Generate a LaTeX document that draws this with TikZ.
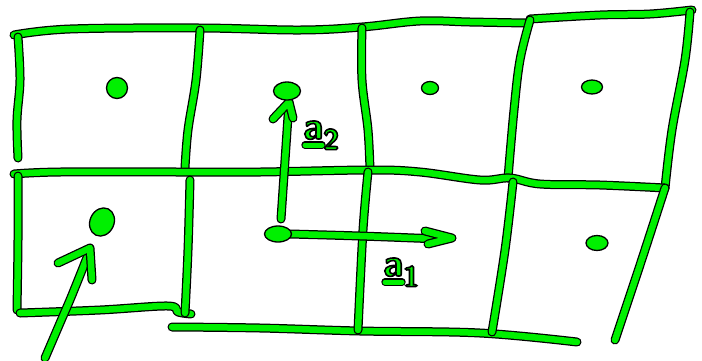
\documentclass[tikz,border=0pt]{standalone}
\usetikzlibrary{calc,shapes.geometric}
\definecolor{pen}{RGB}{0,240,0}
\newcommand{\outlinedtext}[1]{\special{pdf:literal direct 2 Tr 1.6 w 0 0 0 RG}#1\special{pdf:literal direct 0 Tr}}
\tikzset{
  pen/.style={draw=pen, line width=6.5pt, line cap=round, line join=round,
    preaction={draw=black, line width=9pt, line cap=round, line join=round}},
  thinpen/.style={draw=pen, line width=5pt, line cap=round,
    preaction={draw=black, line width=7.4pt, line cap=round}},
  blob/.style={ellipse, fill=pen, draw=black, line width=1.3pt, inner sep=0pt},
  lbl/.style={text=pen, font=\fontsize{38}{38}\selectfont\sffamily\bfseries, inner sep=0pt, anchor=base west}
}
\begin{document}
\begin{tikzpicture}[x=1pt,y=-1pt]
\useasboundingbox (0,0) rectangle (702,360);
% dot centres
\coordinate (c1) at (117,88);
\coordinate (c2) at (287,91);
\coordinate (c3) at (430,88);
\coordinate (c4) at (592,87);
\coordinate (c5) at (102,222);
\coordinate (c6) at (278,234);
\coordinate (c7) at (597,243);
% ---- grid, upper row
\draw[pen] plot[smooth,tension=0.6] coordinates {(14,35) (70,29) (200,28) (300,30) (362,27) (420,21) (470,22) (526,23)};
\draw[pen] plot[smooth,tension=0.6] coordinates {(530,19) (600,15) (650,14) (692,10)};
\draw[pen] plot[smooth,tension=0.6] coordinates {(18,37) (20,80) (17,120) (18,158)};
\draw[pen] plot[smooth,tension=0.6] coordinates {(200,30) (196,80) (188,130) (185,168)};
\draw[pen] plot[smooth,tension=0.6] coordinates {(362,28) (362,80) (368,130) (370,170)};
\draw[pen] plot[smooth,tension=0.6] coordinates {(530,20) (520,60) (514,110) (508,178)};
\draw[pen] plot[smooth,tension=0.6] coordinates {(690,12) (685,60) (672,130) (665,188)};
\draw[pen] plot[smooth,tension=0.6] coordinates {(14,174) (60,172) (185,172) (260,172) (370,170) (420,172) (480,180) (510,178) (540,184) (600,185) (665,188)};
% ---- grid, lower row
\draw[pen] plot[smooth,tension=0.6] coordinates {(18,176) (18,240) (17,310)};
\draw[pen] plot[smooth,tension=0.6] coordinates {(20,313) (100,310) (168,306) (178,312) (191,314)};
\draw[pen] plot[smooth,tension=0.6] coordinates {(190,180) (188,250) (185,313)};
\draw[pen] plot[smooth,tension=0.6] coordinates {(172,327) (260,328) (360,331) (480,333) (577,342)};
\draw[pen] plot[smooth,tension=0.6] coordinates {(368,172) (363,230) (358,330)};
\draw[pen] plot[smooth,tension=0.6] coordinates {(513,182) (505,250) (492,332)};
\draw[pen] plot[smooth,tension=0.6] coordinates {(665,188) (640,265) (615,340)};
% ---- arrows
\draw[pen] ($(c6)+(3,-15)$) -- ($(c2)+(2,11)$);
\draw[pen] ($(c2)+(-14,28)$) -- ($(c2)+(2,11)$) -- ($(c2)+(6,27)$);
\draw[pen] plot[smooth,tension=0.6] coordinates {($(c6)+(12,0)$) (360,236) (440,239)};
\draw[pen] (425,231) -- (452,238) -- (428,244);
\draw[pen] plot[smooth,tension=0.6] coordinates {(45,358) (60,323) (72,295) (90,250)};
\draw[pen] (58,263) -- (90,248) -- (92,280);
% ---- dots
\node[blob, minimum width=21pt, minimum height=21pt] (d1) at (c1) {};
\node[blob, minimum width=27pt, minimum height=18pt] (d2) at (c2) {};
\node[blob, minimum width=17pt, minimum height=13pt] (d3) at (c3) {};
\node[blob, minimum width=21pt, minimum height=14pt] (d4) at (c4) {};
\node[blob, minimum width=24pt, minimum height=29pt, rotate=-25] (d5) at (c5) {};
\node[blob, minimum width=27pt, minimum height=16pt] (d6) at (c6) {};
\node[blob, minimum width=22pt, minimum height=15pt] (d7) at (c7) {};
% ---- labels
\node[lbl] (l2) at (303,139) {\outlinedtext{a\raisebox{-0.28em}{\fontsize{29}{29}\selectfont 2}}};
\draw[thinpen] (305,145) -- (322,145);
\node[lbl] (l1) at (383,276) {\outlinedtext{a\raisebox{-0.28em}{\fontsize{29}{29}\selectfont 1}}};
\draw[thinpen] (385,282) -- (402,282);
\end{tikzpicture}
\end{document}
